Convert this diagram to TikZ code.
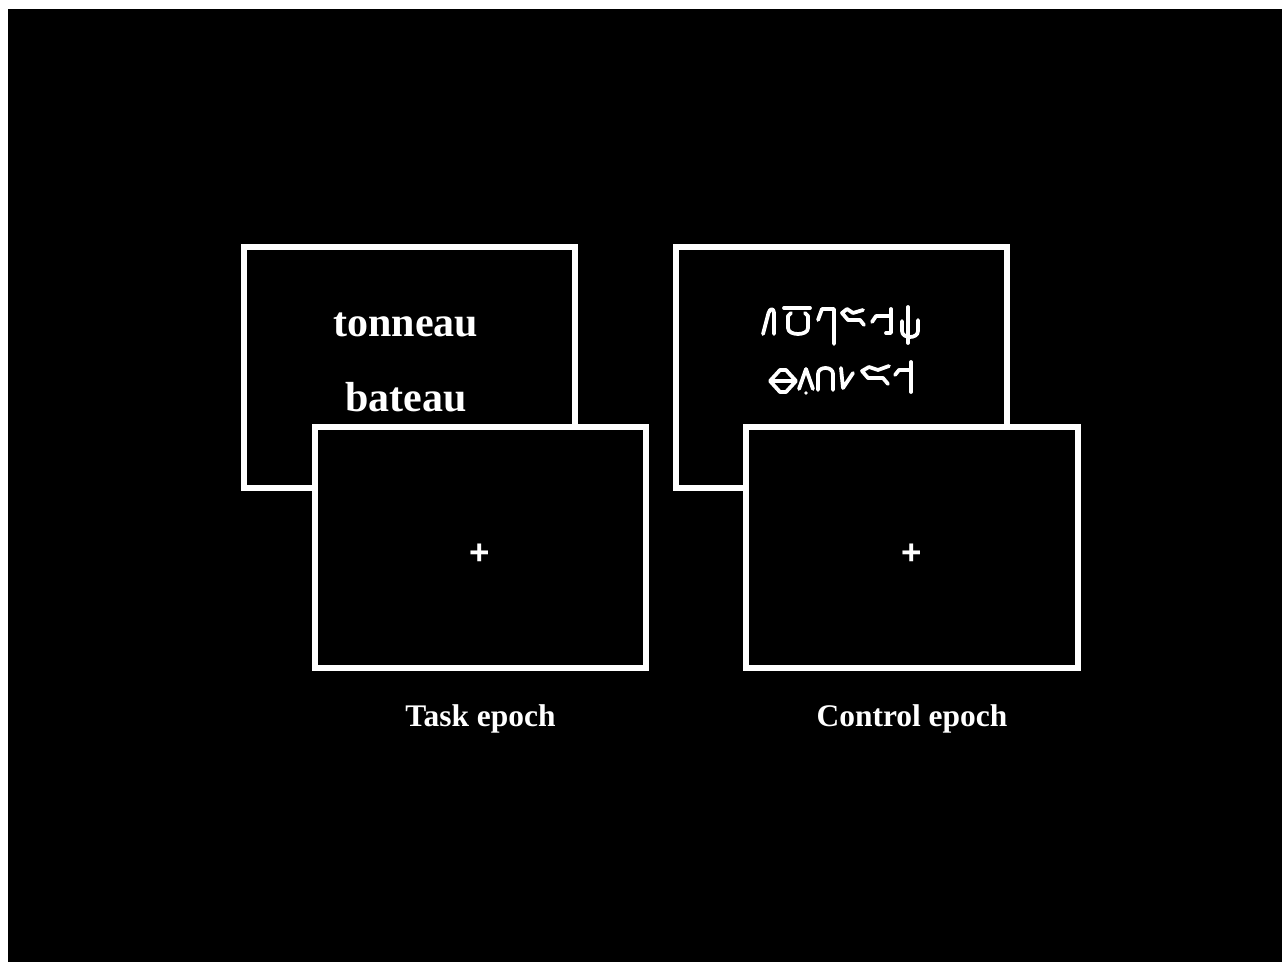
\documentclass[tikz,border=0pt]{standalone}
\usepackage{fontspec}
\setmainfont{Liberation Serif}
\newfontfamily\plusfont{Liberation Sans}
\usetikzlibrary{positioning}
\tikzstyle{screen} = [rectangle, minimum width=6.63cm, minimum height=4.82cm, inner sep=0pt, draw=white, line width=0.12cm, fill=black]
\tikzstyle{word} = [text=white, font=\fontsize{23.9}{28}\selectfont\bfseries, inner sep=0pt, anchor=base]
\tikzstyle{caption} = [text=white, font=\fontsize{17.9}{21}\selectfont\bfseries, inner sep=0pt, anchor=base]
\tikzstyle{fixation} = [text=white, font=\plusfont\fontsize{19.9}{22}\selectfont\bfseries, inner sep=0pt]
\tikzstyle{glyph} = [white, line width=0.075cm, line cap=round, line join=round]

\begin{document}
\begin{tikzpicture}[x=0.02cm, y=-0.02cm]

\fill[white] (0,0) rectangle (1282,962);
\useasboundingbox (0,0) rectangle (1282,962);
\fill[black] (8,9) rectangle (1282,962);

\node (taskword) [screen] at (409.75,367.5) {};

\node (taskfix) [screen, xshift=1.41cm, yshift=-3.6cm] at (taskword) {};

\node (controlword) [screen, xshift=8.64cm] at (taskword) {};

\node (controlfix) [screen, xshift=1.41cm, yshift=-3.6cm] at (controlword) {};

\node (tonneau) [word] at (406,337) {tonneau};

\node (bateau) [word] at (406,412) {bateau};

\node (taskplus) [fixation] at (480,554) {+};

\node (controlplus) [fixation, xshift=8.64cm] at (taskplus) {+};

\node (taskcaption) [caption] at (480.5,726) {Task epoch};

\node (controlcaption) [caption] at (912,726) {Control epoch};

% false font, first line
\draw[glyph] (763,334) -- (768.5,313) .. controls (770,308) and (774,308) .. (774,313) -- (774,334);
\draw[glyph] (784,308) -- (810,308);
\draw[glyph] (791,313) -- (788,316) -- (788,328) .. controls (788,336) and (808,336) .. (808,328) -- (808,316) -- (805,313);
\draw[glyph] (818,320) -- (822,309) -- (834,309) -- (834,344);
\draw[glyph] (863,310) -- (853,313) -- (847,309) -- (842,313) -- (848,320) -- (860,320) -- (864,325);
\draw[glyph] (872,322) -- (876,316) -- (890,316);
\draw[glyph] (891,309) -- (891,333) -- (886,333);
\draw[glyph] (908,307) -- (908,343);
\draw[glyph] (902,321) -- (902,331) .. controls (902,339) and (918,339) .. (918,331) -- (918,320);

% false font, second line
\draw[glyph] (770,381) -- (780,370) -- (786,370) -- (796,381) -- (786,392) -- (780,392) -- cycle;
\draw[glyph] (774,381) -- (792,381);
\draw[glyph] (799,389) -- (806,369) -- (813,389);
\fill[white] (806,393) circle (1.8);
\draw[glyph] (818,390) -- (818,374) .. controls (818,366) and (833,366) .. (833,374) -- (833,390);
\draw[glyph] (841,368) -- (843,388) -- (853,373);
\draw[glyph] (889,366) -- (878,370) -- (869,367) -- (862,371) -- (868,378) -- (883,378) -- (888,384);
\draw[glyph] (895,375) -- (899,370) -- (909,370);
\draw[glyph] (911,362) -- (911,392);

\end{tikzpicture}
\end{document}
